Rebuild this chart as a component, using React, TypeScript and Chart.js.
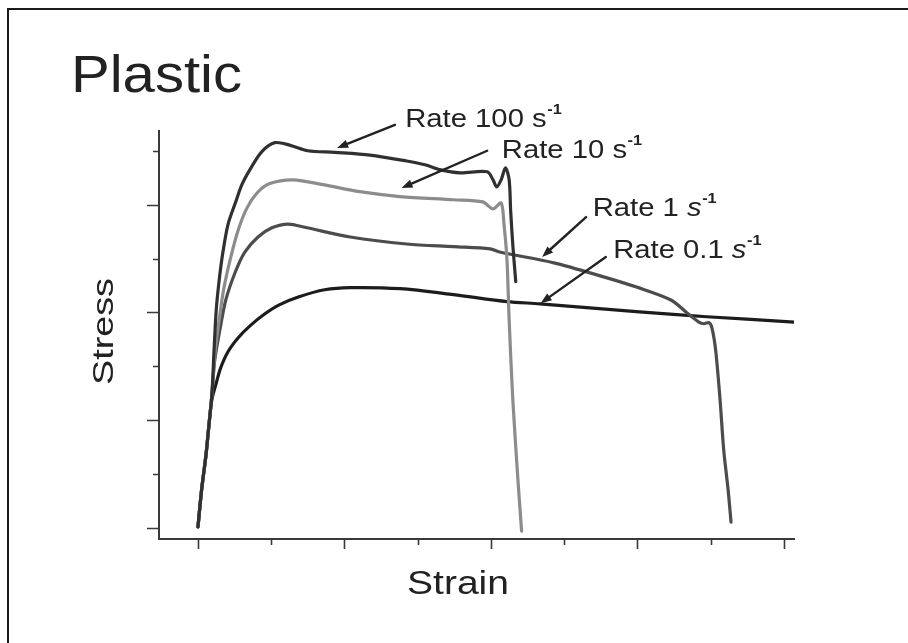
import React, { useEffect, useRef } from "react";
import { Chart, registerables } from "chart.js";

Chart.register(...registerables);

// ---- data (strain / stress in arbitrary units, tick marks at integers) ----
const seriesNames = ["Rate 100", "Rate 10", "Rate 1", "Rate 0.1"];
const seriesItalicUnit = [false, false, true, true];
const seriesColors = ["#303030", "#8c8c8c", "#4c4c4c", "#1c1c1c"];

const rate100Strain = [0.00, 0.05, 0.11, 0.15, 0.19, 0.22, 0.25, 0.29, 0.34, 0.41, 0.51, 0.60, 0.71, 0.87, 1.05, 1.26, 1.50, 1.87, 2.35, 2.85, 3.10, 3.30, 3.58, 3.95, 4.03, 4.08, 4.14, 4.20, 4.25, 4.27, 4.30, 4.34];
const rate100Stress = [0.02, 0.71, 1.36, 1.91, 2.47, 3.30, 4.05, 4.60, 5.11, 5.63, 6.03, 6.37, 6.65, 6.98, 7.15, 7.10, 7.00, 6.97, 6.92, 6.81, 6.74, 6.65, 6.59, 6.61, 6.46, 6.33, 6.46, 6.68, 6.46, 5.90, 5.25, 4.57];

const rate10Strain = [0.00, 0.05, 0.11, 0.15, 0.19, 0.23, 0.29, 0.35, 0.44, 0.55, 0.67, 0.81, 0.98, 1.30, 1.71, 2.21, 2.76, 3.49, 3.89, 4.03, 4.14, 4.18, 4.22, 4.25, 4.30, 4.37, 4.42];
const rate10Stress = [0.02, 0.71, 1.36, 1.91, 2.47, 3.21, 3.86, 4.42, 4.98, 5.53, 5.94, 6.22, 6.39, 6.46, 6.37, 6.24, 6.15, 6.09, 6.05, 5.92, 6.03, 5.63, 4.98, 3.86, 2.38, 0.89, -0.06];

const rate1Strain = [0.00, 0.05, 0.11, 0.15, 0.19, 0.23, 0.30, 0.38, 0.51, 0.64, 0.82, 1.01, 1.23, 1.49, 2.08, 2.85, 3.49, 3.99, 4.12, 4.86, 5.54, 5.99, 6.46, 6.68, 6.84, 6.91, 6.98, 7.02, 7.07, 7.13, 7.18, 7.24, 7.28];
const rate1Stress = [0.02, 0.71, 1.36, 1.91, 2.47, 3.12, 3.68, 4.23, 4.75, 5.12, 5.40, 5.57, 5.64, 5.57, 5.40, 5.27, 5.22, 5.18, 5.12, 4.92, 4.66, 4.47, 4.23, 3.99, 3.82, 3.79, 3.81, 3.71, 3.30, 2.38, 1.45, 0.71, 0.11];

const rate01Strain = [0.00, 0.05, 0.11, 0.15, 0.19, 0.25, 0.31, 0.41, 0.55, 0.71, 0.91, 1.11, 1.38, 1.73, 2.08, 2.76, 3.49, 4.22, 4.67, 6.03, 6.95, 8.15];
const rate01Stress = [0.02, 0.71, 1.36, 1.91, 2.38, 2.69, 2.97, 3.27, 3.53, 3.75, 3.97, 4.14, 4.29, 4.42, 4.46, 4.44, 4.33, 4.20, 4.16, 4.01, 3.92, 3.82];

const strainSeries = [rate100Strain, rate10Strain, rate1Strain, rate01Strain];
const stressSeries = [rate100Stress, rate10Stress, rate1Stress, rate01Stress];

// tick marks (no tick labels in the figure)
const xTickValues = [0, 1, 2, 3, 4, 5, 6, 7, 8];
const xMajorTicks = [0, 2, 4, 6, 8];
const yTickValues = [0, 1, 2, 3, 4, 5, 6, 7];
const yMajorTicks = [0, 2, 4, 6];

// annotation anchors in data units
const labelStrain = [2.83, 4.15, 5.39, 5.67];
const labelStress = [7.44, 6.86, 5.79, 5.01];
const arrowTailStrain = [2.69, 3.95, 5.30, 5.57];
const arrowTailStress = [7.48, 7.00, 5.77, 5.03];
const arrowHeadStrain = [1.90, 2.78, 4.70, 4.68];
const arrowHeadStress = [7.05, 6.31, 5.03, 4.17];

const chartTitle = "Plastic";
const xTitle = "Strain";
const yTitle = "Stress";

const FONT = '"Liberation Sans", Arial, Helvetica, sans-serif';
const INK = "#222222";

function fitText(ctx: CanvasRenderingContext2D, text: string, x: number, y: number, size: number, width: number, angle = 0) {
  ctx.save();
  ctx.font = `${size}px ${FONT}`;
  const natural = ctx.measureText(text).width;
  ctx.translate(x, y);
  if (angle) ctx.rotate(angle);
  ctx.scale(width / natural, 1);
  ctx.fillStyle = INK;
  ctx.textBaseline = "alphabetic";
  ctx.textAlign = "left";
  ctx.fillText(text, 0, 0);
  ctx.restore();
}

const decorPlugin = {
  id: "decor",
  afterDraw(chart: any) {
    const ctx: CanvasRenderingContext2D = chart.ctx;
    const xs = chart.scales.x;
    const ys = chart.scales.y;
    const area = chart.chartArea;

    // outer frame
    ctx.save();
    ctx.strokeStyle = "#1a1a1a";
    ctx.lineWidth = 2;
    ctx.strokeRect(8, 9, 1200, 1200);
    ctx.restore();

    // tick marks
    ctx.save();
    ctx.strokeStyle = "#3a3a3a";
    ctx.lineWidth = 1.6;
    ctx.beginPath();
    xTickValues.forEach((v) => {
      const px = Math.round(xs.getPixelForValue(v)) + 0.5;
      const len = xMajorTicks.includes(v) ? 10 : 6;
      ctx.moveTo(px, area.bottom);
      ctx.lineTo(px, area.bottom + len);
    });
    yTickValues.forEach((v) => {
      const py = Math.round(ys.getPixelForValue(v)) + 0.5;
      const len = yMajorTicks.includes(v) ? 12 : 6;
      ctx.moveTo(area.left, py);
      ctx.lineTo(area.left - len, py);
    });
    ctx.stroke();
    ctx.restore();

    // titles
    fitText(ctx, chartTitle, 71, 92, 51, 171);
    fitText(ctx, xTitle, 407, 594, 33, 102);
    fitText(ctx, yTitle, 113, 385, 30, 107, -Math.PI / 2);

    // arrows
    ctx.save();
    ctx.strokeStyle = INK;
    ctx.fillStyle = INK;
    ctx.lineWidth = 2.4;
    ctx.lineCap = "round";
    for (let i = 0; i < seriesNames.length; i++) {
      const tx = xs.getPixelForValue(arrowTailStrain[i]);
      const ty = ys.getPixelForValue(arrowTailStress[i]);
      const hx = xs.getPixelForValue(arrowHeadStrain[i]);
      const hy = ys.getPixelForValue(arrowHeadStress[i]);
      const ang = Math.atan2(hy - ty, hx - tx);
      const L = 11, W = 4.2;
      const bx = hx - L * Math.cos(ang);
      const by = hy - L * Math.sin(ang);
      ctx.beginPath();
      ctx.moveTo(tx, ty);
      ctx.lineTo(bx, by);
      ctx.stroke();
      ctx.beginPath();
      ctx.moveTo(hx, hy);
      ctx.lineTo(bx + W * Math.sin(ang), by - W * Math.cos(ang));
      ctx.lineTo(bx - W * Math.sin(ang), by + W * Math.cos(ang));
      ctx.closePath();
      ctx.fill();
    }
    ctx.restore();

    // labels: "Rate N s^-1"
    for (let i = 0; i < seriesNames.length; i++) {
      const lx = xs.getPixelForValue(labelStrain[i]);
      const ly = ys.getPixelForValue(labelStress[i]);
      ctx.save();
      ctx.translate(lx, ly);
      ctx.scale(1.17, 1);
      ctx.fillStyle = INK;
      ctx.textBaseline = "alphabetic";
      ctx.font = `25px ${FONT}`;
      const prefix = seriesNames[i] + " ";
      ctx.fillText(prefix, 0, 0);
      let w = ctx.measureText(prefix).width;
      ctx.font = `${seriesItalicUnit[i] ? "italic " : ""}25px ${FONT}`;
      ctx.fillText("s", w, 0);
      w += ctx.measureText("s").width;
      ctx.font = `bold 14px ${FONT}`;
      ctx.fillText("-1", w + 0.5, -13);
      ctx.restore();
    }
  },
};

export default function App() {
  const canvasRef = useRef<HTMLCanvasElement | null>(null);

  useEffect(() => {
    if (!canvasRef.current) return;
    const datasets = seriesNames.map((name, i) => ({
      label: name,
      data: strainSeries[i].map((x, j) => ({ x, y: stressSeries[i][j] })),
      showLine: true,
      borderColor: seriesColors[i],
      backgroundColor: seriesColors[i],
      borderWidth: 3.2,
      pointRadius: 0,
      pointHoverRadius: 0,
      tension: 0.3,
      fill: false,
      borderCapStyle: "round" as const,
      borderJoinStyle: "round" as const,
    }));

    const chart = new Chart(canvasRef.current, {
      type: "scatter",
      data: { datasets },
      options: {
        animation: false,
        responsive: true,
        maintainAspectRatio: false,
        layout: { padding: { left: 159, top: 131, right: 114, bottom: 104 } },
        plugins: {
          legend: { display: false },
          tooltip: { enabled: false },
          title: { display: false },
        },
        scales: {
          x: {
            type: "linear",
            min: -0.532,
            max: 8.14,
            ticks: { display: false },
            grid: { display: false, drawTicks: false },
            border: { display: true, color: "#3a3a3a", width: 2 },
          },
          y: {
            type: "linear",
            min: -0.204,
            max: 7.366,
            ticks: { display: false },
            grid: { display: false, drawTicks: false },
            border: { display: true, color: "#3a3a3a", width: 2 },
          },
        },
      },
      plugins: [decorPlugin],
    });
    return () => chart.destroy();
  }, []);

  return (
    <div style={{ position: "absolute", left: 0, top: 0, width: 908, height: 643, overflow: "hidden", background: "#fff" }}>
      <canvas ref={canvasRef} />
    </div>
  );
}
